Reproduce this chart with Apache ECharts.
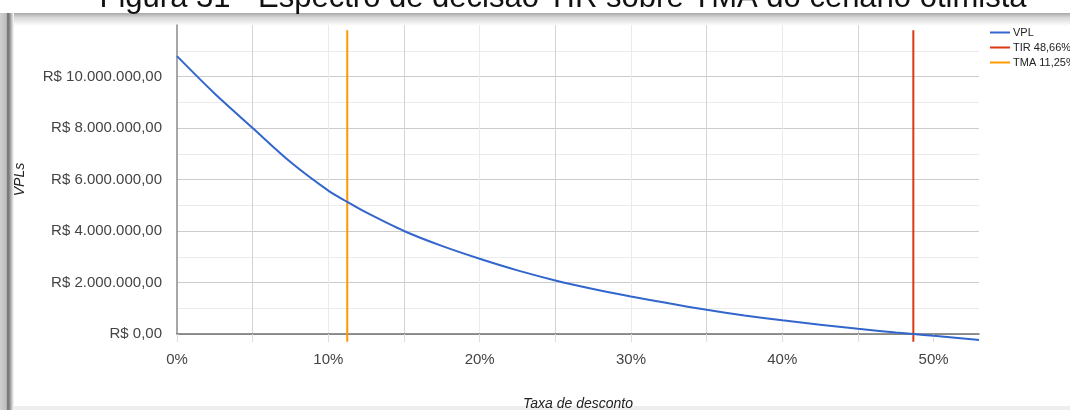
<!DOCTYPE html>
<html>
<head>
<meta charset="utf-8">
<script src="https://cdn.jsdelivr.net/npm/echarts@6/dist/echarts.min.js"></script>
<style>
  html, body { margin: 0; padding: 0; background: #fff; }
  #chart { width: 1070px; height: 410px; }
</style>
</head>
<body>
<div id="chart"></div>
<script>
// Taxa de desconto (%) e VPL correspondente (R$)
const taxas = [0, 2.5, 5, 7.5, 10, 11.25, 12.5, 15, 17.5, 20, 22.5, 25, 27.5, 30, 32.5, 35, 37.5, 40, 42.5, 45, 47.5, 48.66, 50, 52.5, 53];
const vpl = [10790000, 9330000, 8000000, 6680000, 5570000, 5130000, 4720000, 4000000, 3420000, 2920000,
             2470000, 2080000, 1750000, 1460000, 1190000, 940000, 720000, 530000, 360000, 200000,
             60000, 0, -70000, -200000, -230000];

// Linhas de decisão
const tir = 48.66;
const tma = 11.25;
const faixaVertical = [-300000, 11800000];

const titulo = 'Figura 31 - Espectro de decisão TIR sobre TMA do cenário otimista';
const nomes = ['VPL', 'TIR 48,66%', 'TMA 11,25%'];
const cores = ['#3366cc', '#dc3912', '#ff9900'];

const FONT = '"Liberation Sans", Arial, sans-serif';

function moeda(v) {
  const inteiro = Math.round(Math.abs(v)).toString().replace(/\B(?=(\d{3})+(?!\d))/g, '.');
  return 'R$ ' + (v < 0 ? '-' : '') + inteiro + ',00';
}

const chart = echarts.init(document.getElementById('chart'), null, { renderer: 'canvas' });

chart.setOption({
  animation: false,
  backgroundColor: '#ffffff',
  graphic: [
    {
      type: 'text', z: 10,
      style: { text: titulo, x: 563, y: -2, textAlign: 'center', textVerticalAlign: 'middle',
               font: '31px ' + FONT, fill: '#111' }
    },
    // moldura: sombra superior
    {
      type: 'rect', z: -1, silent: true,
      shape: { x: 0, y: 13, width: 1070, height: 13 },
      style: { fill: new echarts.graphic.LinearGradient(0, 0, 0, 1, [
        { offset: 0, color: '#a8a8a8' }, { offset: 0.35, color: '#d8d8d8' }, { offset: 1, color: '#ffffff' }]) }
    },
    // moldura: borda esquerda
    {
      type: 'rect', z: 5, silent: true,
      shape: { x: 0, y: 13, width: 14, height: 397 },
      style: { fill: new echarts.graphic.LinearGradient(0, 0, 1, 0, [
        { offset: 0, color: '#d0d0d0' }, { offset: 0.45, color: '#bdbdbd' }, { offset: 0.55, color: '#6e6e6e' },
        { offset: 0.68, color: '#8a8a8a' }, { offset: 1, color: '#ffffff' }]) }
    },
    // moldura: borda inferior
    {
      type: 'rect', z: -1, silent: true,
      shape: { x: 0, y: 406, width: 1070, height: 4 },
      style: { fill: '#eeeeee' }
    }
  ],
  legend: {
    orient: 'vertical',
    left: 990,
    top: 25,
    padding: 0,
    itemWidth: 20,
    itemHeight: 2,
    itemGap: 0,
    icon: 'rect',
    data: nomes,
    textStyle: { fontFamily: FONT, fontSize: 11, color: '#222', lineHeight: 15, padding: [0, 0, 0, -2] }
  },
  grid: { left: 177, right: 91, top: 25, bottom: 76, containLabel: false, outerBoundsMode: 'none' },
  xAxis: {
    type: 'value',
    min: 0,
    max: 53,
    interval: 5,
    name: 'Taxa de desconto',
    nameLocation: 'middle',
    nameGap: 63,
    nameTextStyle: { fontFamily: FONT, fontSize: 14, fontStyle: 'italic', color: '#222' },
    axisLine: { show: true, onZero: false, lineStyle: { color: '#707070', width: 1.5 } },
    axisTick: { show: true, length: 8, inside: false, customValues: [0, 5, 10, 15, 20, 25, 30, 35, 40, 45, 50],
                lineStyle: { color: '#dddddd' } },
    axisLabel: {
      fontFamily: FONT, fontSize: 15, color: '#444', margin: 18,
      showMaxLabel: false,
      formatter: v => (v % 10 === 0 ? v + '%' : '')
    },
    splitLine: { show: true, showMinLine: false, showMaxLine: false,
                 lineStyle: { color: ['#d4d4d4', '#ebebeb'], width: 1 } }
  },
  yAxis: {
    type: 'value',
    min: 0,
    max: 12000000,
    interval: 1000000,
    name: 'VPLs',
    nameLocation: 'middle',
    nameGap: 150,
    nameRotate: 90,
    nameTextStyle: { fontFamily: FONT, fontSize: 14, fontStyle: 'italic', color: '#222' },
    axisLine: { show: true, lineStyle: { color: '#8a8a8a', width: 1.5 } },
    axisTick: { show: false },
    axisLabel: {
      fontFamily: FONT, fontSize: 15, color: '#444', margin: 15,
      showMaxLabel: false,
      formatter: v => (v % 2000000 === 0 ? moeda(v) : '')
    },
    splitLine: { show: true, showMaxLine: false,
                 lineStyle: { color: ['#cccccc', '#ebebeb'], width: 1 } }
  },
  series: [
    {
      name: nomes[0], type: 'line', color: cores[0],
      data: taxas.map((t, i) => [t, vpl[i]]),
      smooth: 0.3, symbol: 'none', clip: false,
      lineStyle: { width: 2, color: cores[0] }, z: 3
    },
    {
      name: nomes[1], type: 'line', color: cores[1],
      data: faixaVertical.map(v => [tir, v]),
      symbol: 'none', clip: false,
      lineStyle: { width: 2, color: cores[1] }, z: 2
    },
    {
      name: nomes[2], type: 'line', color: cores[2],
      data: faixaVertical.map(v => [tma, v]),
      symbol: 'none', clip: false,
      lineStyle: { width: 2, color: cores[2] }, z: 2
    }
  ]
});
</script>
</body>
</html>
